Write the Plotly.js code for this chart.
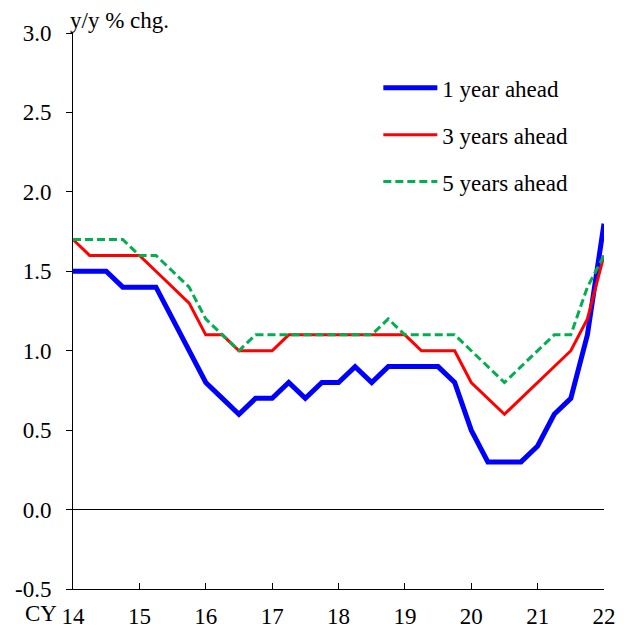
<!DOCTYPE html>
<html>
<head>
<meta charset="utf-8">
<script src="https://cdn.plot.ly/plotly-3.0.1.min.js"></script>
<style>html,body{margin:0;padding:0;background:#fff;}#chart{width:624px;height:628px;}</style>
</head>
<body>
<div id="chart"></div>
<script>
const quarters = [
  "14Q1","14Q2","14Q3","14Q4","15Q1","15Q2","15Q3","15Q4",
  "16Q1","16Q2","16Q3","16Q4","17Q1","17Q2","17Q3","17Q4",
  "18Q1","18Q2","18Q3","18Q4","19Q1","19Q2","19Q3","19Q4",
  "20Q1","20Q2","20Q3","20Q4","21Q1","21Q2","21Q3","21Q4","22Q1"
];
const oneYear = [
  1.5,1.5,1.5,1.4,1.4,1.4,1.2,1.0,
  0.8,0.7,0.6,0.7,0.7,0.8,0.7,0.8,
  0.8,0.9,0.8,0.9,0.9,0.9,0.9,0.8,
  0.5,0.3,0.3,0.3,0.4,0.6,0.7,1.1,1.8
];
const threeYears = [
  1.7,1.6,1.6,1.6,1.6,1.5,1.4,1.3,
  1.1,1.1,1.0,1.0,1.0,1.1,1.1,1.1,
  1.1,1.1,1.1,1.1,1.1,1.0,1.0,1.0,
  0.8,0.7,0.6,0.7,0.8,0.9,1.0,1.2,1.6
];
const fiveYears = [
  1.7,1.7,1.7,1.7,1.6,1.6,1.5,1.4,
  1.2,1.1,1.0,1.1,1.1,1.1,1.1,1.1,
  1.1,1.1,1.1,1.2,1.1,1.1,1.1,1.1,
  1.0,0.9,0.8,0.9,1.0,1.1,1.1,1.4,1.6
];
const seriesNames = ["1 year ahead","3 years ahead","5 years ahead"];
const xTickVals = ["14Q1","15Q1","16Q1","17Q1","18Q1","19Q1","20Q1","21Q1","22Q1"];
const xTickText = ["14","15","16","17","18","19","20","21","22"];
const yTickVals = [-0.5,0,0.5,1.0,1.5,2.0,2.5,3.0];
const yTickText = ["-0.5","0.0","0.5","1.0","1.5","2.0","2.5","3.0"];

const FONT = "Liberation Serif, Times New Roman, serif";
const FS = 23;

const traces = [
  {x: quarters, y: oneYear, name: seriesNames[0], type: "scatter", mode: "lines",
   line: {color: "#0000FF", width: 5}, legendgroup: "a"},
  {x: quarters, y: threeYears, name: seriesNames[1], type: "scatter", mode: "lines",
   line: {color: "#FF0000", width: 3}, legendgroup: "b"},
  {x: quarters, y: fiveYears, name: seriesNames[2], type: "scatter", mode: "lines",
   line: {color: "#00B050", width: 3, dash: "8px,4px"}, legendgroup: "c"}
];

const layout = {
  width: 624, height: 628,
  margin: {l: 73, r: 20, t: 33, b: 39},
  paper_bgcolor: "#fff", plot_bgcolor: "#fff",
  font: {family: FONT, size: FS, color: "#000"},
  title: {text: "y/y % chg.", x: 70/624, xref: "container", xanchor: "left",
          y: 1 - 20/628, yref: "container", yanchor: "middle",
          font: {family: FONT, size: FS, color: "#000"}},
  showlegend: true,
  legend: {x: 0.575, y: 0.94, xanchor: "left", yanchor: "top",
           bgcolor: "rgba(0,0,0,0)", tracegroupgap: 14, itemwidth: 54,
           font: {family: FONT, size: FS, color: "#000"}},
  xaxis: {type: "category", categoryorder: "array", categoryarray: quarters,
          range: [0, quarters.length - 1],
          tickmode: "array", tickvals: xTickVals, ticktext: xTickText,
          ticks: "inside", ticklen: 6, tickcolor: "#000", tickwidth: 1,
          showline: true, linecolor: "#000", linewidth: 1,
          showgrid: false, zeroline: false, ticklabelstandoff: 6,
          tickfont: {family: FONT, size: FS, color: "#000"}},
  yaxis: {range: [-0.5, 3.0], tickmode: "array", tickvals: yTickVals, ticktext: yTickText,
          ticks: "outside", ticklen: 6, tickcolor: "#000", tickwidth: 1,
          showline: true, linecolor: "#000", linewidth: 1,
          showgrid: false, zeroline: true, zerolinecolor: "#000", zerolinewidth: 1,
          ticklabelstandoff: 10,
          tickfont: {family: FONT, size: FS, color: "#000"}},
  annotations: [
    {text: "CY", xref: "paper", yref: "paper", x: -0.028, y: 0, xanchor: "right",
     yanchor: "top", yshift: -11, showarrow: false, borderpad: 0,
     font: {family: FONT, size: FS, color: "#000"}}
  ]
};

Plotly.newPlot("chart", traces, layout, {displayModeBar: false, staticPlot: true});
</script>
</body>
</html>
